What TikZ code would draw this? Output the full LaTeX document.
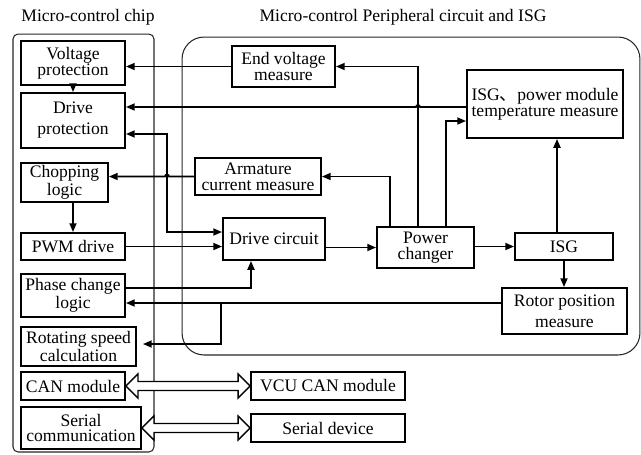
\documentclass[tikz,border=0pt]{standalone}
\usepackage{fontspec}
\setmainfont{Liberation Serif}
\newfontfamily\cjkfont{Noto Sans CJK SC}
\usetikzlibrary{arrows.meta,calc}

\begin{document}
\begin{tikzpicture}[x=0.02cm, y=-0.02cm,
  blk/.style={rectangle, draw, line width=1.1pt, align=center, inner sep=1pt, font=\fontsize{10}{9}\selectfont},
  frame/.style={rectangle, draw=black!85, line width=0.6pt},
  link/.style={line width=0.95pt, -{Triangle[length=5pt,width=4pt]}},
  hollow/.style={line width=0.8pt, fill=white, line join=miter}]
\useasboundingbox (0,0) rectangle (641,454);

\node[frame, rounded corners=0.1cm, minimum width=2.82cm, minimum height=8.36cm] (chip) at (83.5,243) {};
\node[frame, rounded corners=0.44cm, minimum width=9.16cm, minimum height=6.36cm] (peri) at (411,196) {};
\node[font=\fontsize{10}{12}\selectfont] (chiptitle) at (88,17) {Micro-control chip};
\node[font=\fontsize{10}{12}\selectfont] (perititle) at (403,17) {Micro-control Peripheral circuit and ISG};

\node[blk, minimum width=2.08cm, minimum height=0.88cm] (vprot) at (73,63) {Voltage\\protection};
\node[blk, minimum width=2.08cm, minimum height=1.10cm] (dprot) at (73,120.5) {Drive\\[3pt]protection};
\node[blk, minimum width=1.74cm, minimum height=0.78cm] (chop) at (64.5,182.5) {Chopping\\logic};
\node[blk, minimum width=2.08cm, minimum height=0.54cm] (pwm) at (73,246.5) {PWM drive};
\node[blk, minimum width=2.08cm, minimum height=0.86cm] (phase) at (73,295.5) {Phase change\\logic};
\node[blk, minimum width=2.30cm, minimum height=0.78cm] (speed) at (78.5,346.5) {Rotating speed\\calculation};
\node[blk, minimum width=2.08cm, minimum height=0.56cm] (can) at (73,386) {CAN module};
\node[blk, minimum width=2.40cm, minimum height=0.84cm] (serial) at (81,428) {Serial\\communication};

\node[blk, minimum width=2.06cm, minimum height=0.82cm] (endv) at (283.5,66.5) {End voltage\\measure};
\node[blk, minimum width=3.12cm, minimum height=1.36cm] (temp) at (545,104) {ISG{\cjkfont 、}power module\\temperature measure};
\node[blk, minimum width=2.52cm, minimum height=0.74cm] (arm) at (258,176.5) {Armature\\current measure};
\node[blk, minimum width=2.04cm, minimum height=0.84cm] (drv) at (274,239) {Drive circuit};
\node[blk, minimum width=1.94cm, minimum height=0.82cm] (pch) at (425.5,247.5) {Power\\changer};
\node[blk, minimum width=1.96cm, minimum height=0.54cm] (isg) at (564,246.5) {ISG};
\node[blk, minimum width=2.50cm, minimum height=0.92cm] (rotor) at (564.5,311) {Rotor position\\[3pt]measure};
\node[blk, minimum width=3.08cm, minimum height=0.56cm] (vcu) at (328,386) {VCU CAN module};
\node[blk, minimum width=3.08cm, minimum height=0.56cm] (sdev) at (328,428) {Serial device};

\coordinate (upE) at ([xshift=-0.15cm]pch.north);
\coordinate (upT) at ([xshift=0.41cm]pch.north);
\coordinate (upA) at ([xshift=-0.71cm]pch.north);
\coordinate (tmpL) at ([yshift=-0.06cm]temp.west);
\coordinate (bus) at (167,134);
\coordinate (rotL) at ([yshift=0.16cm]rotor.west);
\coordinate (br) at ([xshift=-0.02cm]drv.west |- rotL);

\draw[link] (endv.west) -- (endv.west -| vprot.east);
\draw[link] (vprot.south) -- (dprot.north);
\draw[link] (tmpL) -- ([xshift=0.04cm]upE |- tmpL) arc[start angle=0, end angle=180, radius=0.04cm] -- (tmpL -| dprot.east);
\draw[link] (upE) |- (endv.east);
\draw[link] (upT) |- ([yshift=-0.34cm]temp.west);
\draw[link] (upA) |- (arm.east);
\draw[link] (arm.west) -- ([xshift=0.04cm]bus |- arm.west) arc[start angle=0, end angle=180, radius=0.04cm] -- (arm.west -| chop.east);
\draw[link, {Triangle[length=5pt,width=4pt]}-{Triangle[length=5pt,width=4pt]}] ([yshift=-0.27cm]dprot.east) -- (bus) |- ([yshift=0.14cm]drv.west);
\draw[link] (chop.south -| pwm.north) -- (pwm.north);
\draw[link] (pwm.east) -- (pwm.east -| drv.west);
\draw[link] ([yshift=0.15cm]phase.east) -| ([xshift=-0.46cm]drv.south);
\draw[link] (rotL) -- (rotL -| phase.east);
\draw[link] (br) |- ([xshift=0.12cm,yshift=0.05cm]speed.east);
\draw[link] (drv.east |- pch.west) -- (pch.west);
\draw[link] (pch.east |- isg.west) -- (isg.west);
\draw[link] ([xshift=-0.14cm]isg.north) -- ([xshift=-0.14cm]isg.north |- temp.south);
\draw[link] (isg.south) -- (isg.south |- rotor.north);

\draw[hollow] (can.east) -- ++(12,-12) -- ++(0,7.5) -- ($(vcu.west)+(-12,-4.5)$) -- ++(0,-7.5) -- (vcu.west) -- ++(-12,12) -- ++(0,-7.5) -- ($(can.east)+(12,4.5)$) -- ++(0,7.5) -- cycle;
\draw[hollow] (serial.east) -- ++(12,-12) -- ++(0,7.5) -- ($(sdev.west)+(-12,-4.5)$) -- ++(0,-7.5) -- (sdev.west) -- ++(-12,12) -- ++(0,-7.5) -- ($(serial.east)+(12,4.5)$) -- ++(0,7.5) -- cycle;
\end{tikzpicture}
\end{document}
